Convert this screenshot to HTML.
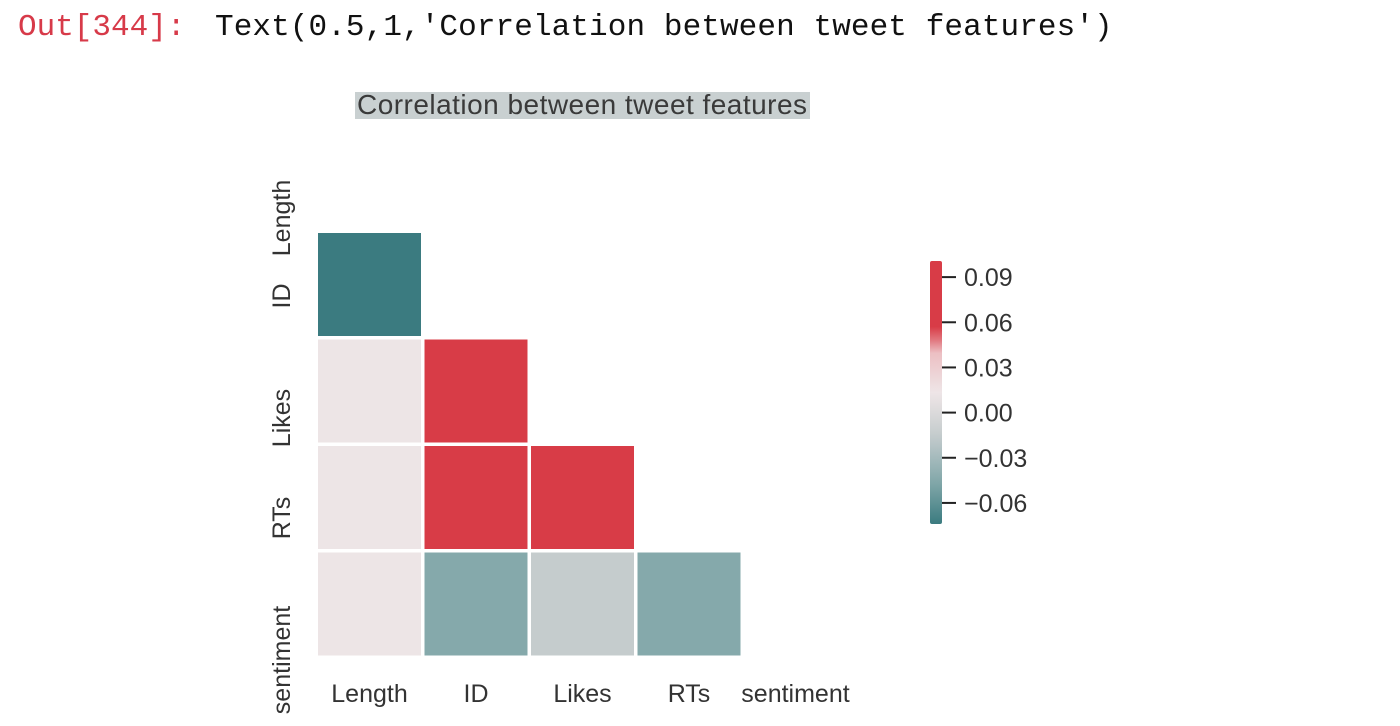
<!DOCTYPE html>
<html><head><meta charset="utf-8"><style>
body{margin:0;background:#fff;width:1400px;height:726px;overflow:hidden;position:relative}
.mono{font-family:"Liberation Mono",monospace;font-size:31px;position:absolute;top:10px}
</style></head><body>
<div class="mono" style="left:18px;color:#d73a49">Out[344]:</div>
<div class="mono" style="left:215px;color:#111;letter-spacing:0.1px">Text(0.5,1,'Correlation between tweet features')</div>
<svg width="1400" height="726" style="position:absolute;left:0;top:0" id="chart">
<rect x="355" y="92" width="455" height="27" fill="#c9d0d1"/>
<text x="582" y="114" text-anchor="middle" font-family="Liberation Sans, sans-serif" font-size="28" fill="#3a3a3a" textLength="450">Correlation between tweet features</text>
<g id="cells"></g><g id="labels"></g><g id="cbar"></g>
</svg>
<script>
const labels=["Length","ID","Likes","RTs","sentiment"];
const rowIdx=[1,2,2,3,3,3,4,4,4,4];
const colIdx=[0,0,1,0,1,2,0,1,2,3];
const values=[-0.074,0.012,0.1,0.012,0.1,0.1,0.012,-0.045,-0.015,-0.045];
const cbTicks=[0.09,0.06,0.03,0.00,-0.03,-0.06];
const cbTickLabels=["0.09","0.06","0.03","0.00","\u22120.03","\u22120.06"];
const vmin=-0.074,vmax=0.1007;
const NS="http://www.w3.org/2000/svg";
const x0=318,y0=126.5,pitch=106.5,cs=103;
const xs=i=>x0+i*pitch, ys=i=>y0+i*pitch;
const stops=[[-0.074,[59,123,128]],[-0.045,[133,169,171]],[-0.015,[197,204,205]],[0.013,[238,230,231]],[0.04,[236,190,194]],[0.055,[216,60,71]],[0.101,[216,60,71]]];
function color(v){for(let i=1;i<stops.length;i++){if(v<=stops[i][0]){const a=stops[i-1],b=stops[i];const t=Math.max(0,(v-a[0])/(b[0]-a[0]));return "rgb("+a[1].map((c,k)=>Math.round(c+(b[1][k]-c)*t)).join(",")+")";}}return "rgb(216,60,71)";}
function mk(tag,attrs,parent){const e=document.createElementNS(NS,tag);for(const k in attrs)e.setAttribute(k,attrs[k]);parent.appendChild(e);return e;}
const cells=document.getElementById('cells');
values.forEach((v,i)=>{const r=mk('rect',{x:xs(colIdx[i]),y:ys(rowIdx[i]),width:cs,height:cs,fill:color(v)},cells);

});
const lg=document.getElementById('labels');
const ylabY=[218,296,418,518,660];
labels.forEach((l,i)=>{
const t=mk('text',{x:xs(i)+cs/2,y:702,'text-anchor':'middle','font-family':'Liberation Sans, sans-serif','font-size':25,fill:'#333'},lg);t.textContent=l;


const yy=ylabY[i];
const u=mk('text',{x:0,y:0,'text-anchor':'middle','font-family':'Liberation Sans, sans-serif','font-size':25,fill:'#333',transform:'translate(290,'+yy+') rotate(-90)'},lg);u.textContent=l;


});
const cb=document.getElementById('cbar');
const cbTop=261,cbBot=524,cy=v=>cbTop+(vmax-v)/(vmax-vmin)*(cbBot-cbTop);
const defs=mk('defs',{},cb);const gr=mk('linearGradient',{id:'g',x1:0,y1:0,x2:0,y2:1},defs);
for(let k=0;k<=20;k++){const v=vmax-(vmax-vmin)*k/20;mk('stop',{offset:k/20,'stop-color':color(v)},gr);}
const bar=mk('rect',{x:930,y:cbTop,width:12,height:cbBot-cbTop,fill:'url(#g)',rx:2},cb);


cbTicks.forEach((v,i)=>{const y=cy(v);mk('line',{x1:942,x2:956,y1:y,y2:y,stroke:'#222','stroke-width':2},cb);
const t=mk('text',{x:964,y:y+9,'font-family':'Liberation Sans, sans-serif','font-size':25,fill:'#333'},cb);t.textContent=cbTickLabels[i];

});
</script>
</body></html>
